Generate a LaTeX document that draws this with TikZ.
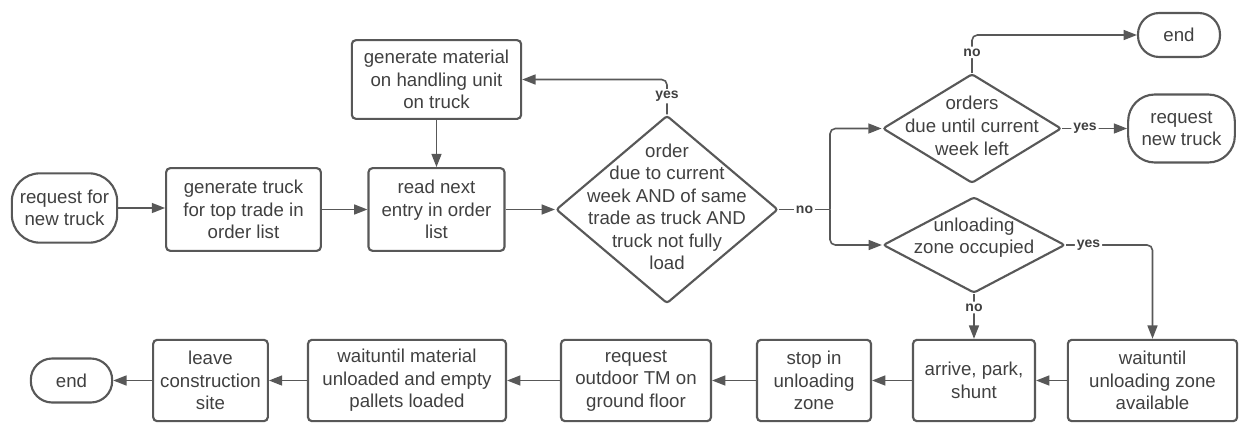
\documentclass[tikz,border=0pt]{standalone}
\usepackage{fontspec}
\setmainfont{Liberation Sans}
\usetikzlibrary{arrows.meta, shapes.geometric}
\definecolor{lineGray}{RGB}{88,88,88}
\definecolor{textGray}{RGB}{64,64,64}

\begin{document}
\begin{tikzpicture}[x=0.75pt,y=-0.75pt,>={Triangle[length=10pt,width=7.5pt]},
  every node/.style={text=textGray},
  box/.style={draw=lineGray,line width=1.6pt,rounded corners=3pt,align=center,
    inner sep=0pt,font=\fontsize{14}{16.9}\selectfont},
  term/.style={box,rounded corners=16pt},
  rowbox/.style={box,minimum height=61pt},
  decision/.style={draw=lineGray,line width=1.6pt,diamond,inner sep=0pt,
    rounded corners=2pt},
  dtext/.style={align=center,font=\fontsize{14}{16.9}\selectfont},
  flow/.style={draw=lineGray,line width=1.2pt,->,rounded corners=4pt},
  lbl/.style={fill=white,inner sep=1.5pt,font=\fontsize{10.5}{12}\selectfont\bfseries}]
  % picture in pixel units of the 1240x422 sketch
  \useasboundingbox (0,0) rectangle (1240,422);
  \def\rowy{380.5}   % centre line of the lower row

  % upper part: truck generation and loading loop
  \node[term,rounded corners=21pt,minimum width=79pt,minimum height=52pt] (start)
    at (64.5,208) {request for\\new truck};
  \node[box,minimum width=116pt,minimum height=62pt] (gentruck) at (243.5,209.5)
    {generate truck\\for top trade in\\order list};
  \node[box,minimum width=102pt,minimum height=62pt] (readnext) at (436.5,209.5)
    {read next\\entry in order\\list};
  \node[box,minimum width=127pt,minimum height=59pt] (genmat) at (436.5,79.5)
    {generate material\\on handling unit\\on truck};
  \node[decision,minimum width=166.5pt,minimum height=141pt] (due) at (667,209.5) {};
  \node[dtext,yshift=2pt] (duetext) at (due)
    {order\\due to current\\week AND of same\\trade as truck AND\\truck not fully\\load};

  % right part: the two checks
  \node[term,minimum width=61.5pt,minimum height=33pt] (endtop) at (1179,35) {end};
  \node[decision,minimum width=134pt,minimum height=82pt] (orders) at (972,128.5) {};
  \node[dtext,yshift=2pt] (orderstext) at (orders)
    {orders\\due until current\\week left};
  \node[term,rounded corners=20pt,minimum width=80pt,minimum height=51pt] (reqtruck)
    at (1181.5,128.5) {request\\new truck};
  \node[decision,minimum width=136.5pt,minimum height=72pt] (zoneocc) at (974,245) {};
  \node[dtext,yshift=5.5pt] (zoneocctext) at (zoneocc) {unloading\\zone occupied};

  % lower row, read from right to left
  \node[rowbox,minimum width=127pt] (waitzone) at (1152.5,\rowy)
    {waituntil\\unloading zone\\available};
  \node[rowbox,minimum width=91.5pt] (arrive) at (974,\rowy) {arrive, park,\\shunt};
  \node[rowbox,minimum width=85.5pt] (stopzone) at (814,\rowy)
    {stop in\\unloading\\zone};
  \node[rowbox,minimum width=112.5pt] (reqtm) at (636,\rowy)
    {request\\outdoor TM on\\ground floor};
  \node[rowbox,minimum width=148.5pt] (waitmat) at (407,\rowy)
    {waituntil material\\unloaded and empty\\pallets loaded};
  \node[rowbox,minimum width=86pt] (leave) at (210.5,\rowy)
    {leave\\construction\\site};
  \node[term,minimum width=61pt,minimum height=33pt] (endbot) at (71.5,\rowy) {end};

  % connectors
  \draw[flow] (start.east) -- (start.east -| gentruck.west);
  \draw[flow] (gentruck) -- (readnext);
  \draw[flow] (readnext) -- (due);
  \draw[flow] (genmat) -- (readnext);
  \draw[flow] (due.north) |- node[lbl,pos=0.26]{yes} (genmat.east);

  \coordinate (split) at (830,209.5);
  \draw[draw=lineGray,line width=1.2pt] (due.east) -- node[lbl]{no} (split);
  \draw[flow] (split) |- (orders.west);
  \draw[flow] (split) |- (zoneocc.west);

  \draw[flow] (orders.north) |- node[lbl,pos=0.27]{no} (endtop.west);
  \draw[flow] (orders.east) -- node[lbl,pos=0.35]{yes} (reqtruck.west);
  \draw[flow] (zoneocc.east) -| node[lbl,pos=0.13]{yes} (waitzone.north);
  \draw[flow] (zoneocc.south) -- node[lbl,pos=0.3]{no} (arrive.north);

  \draw[flow] (waitzone) -- (arrive);
  \draw[flow] (arrive) -- (stopzone);
  \draw[flow] (stopzone) -- (reqtm);
  \draw[flow] (reqtm) -- (waitmat);
  \draw[flow] (waitmat) -- (leave);
  \draw[flow] (leave) -- (endbot);
\end{tikzpicture}
\end{document}
